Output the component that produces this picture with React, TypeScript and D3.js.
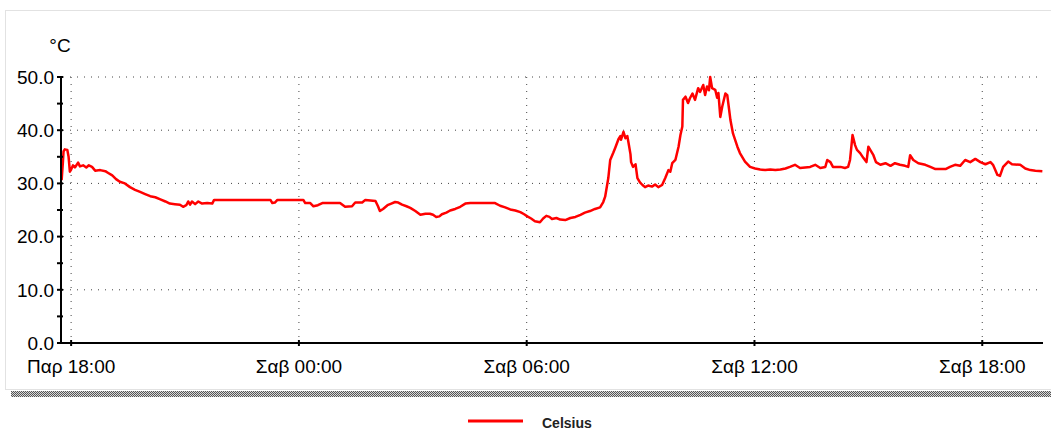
import React from "react";
import * as d3 from "d3";

// minutes after Friday 18:00
const minutes = [
  -15, -13, -12, -10, -6, -4, -2, 0, 3, 6, 11, 14, 19, 24, 28, 33, 38, 46, 54, 58, 65, 71, 77, 85, 93, 101, 109, 117, 125, 133, 141, 149, 156, 164, 172, 177, 182, 185, 188, 191, 196, 201, 207, 215, 223, 226, 251, 283, 315, 318, 322, 326, 346, 367, 370, 378, 383, 390, 397, 409, 425, 433, 444, 449, 460, 465, 473, 481, 485, 488, 493, 500, 506, 512, 517, 523, 530, 536, 544, 552, 560, 567, 572, 577, 582, 586, 593, 599, 607, 615, 623, 631, 646, 662, 670, 678, 686, 694, 702, 710, 716, 721, 727, 733, 741, 746, 751, 756, 760, 767, 773, 781, 789, 797, 805, 812, 820, 828, 836, 841, 844, 849, 852, 857, 860, 865, 868, 869, 873, 876, 879, 881, 884, 885, 888, 892, 895, 899, 903, 907, 912, 918, 923, 928, 934, 939, 944, 947, 950, 955, 960, 963, 966, 967, 971, 975, 978, 982, 986, 991, 994, 999, 1002, 1005, 1008, 1010, 1013, 1018, 1021, 1023, 1026, 1029, 1034, 1037, 1040, 1042, 1046, 1053, 1057, 1065, 1073, 1081, 1089, 1097, 1105, 1113, 1121, 1129, 1136, 1144, 1152, 1160, 1168, 1176, 1184, 1192, 1195, 1200, 1204, 1216, 1223, 1228, 1231, 1235, 1239, 1242, 1247, 1252, 1257, 1260, 1263, 1268, 1272, 1279, 1287, 1295, 1302, 1310, 1318, 1323, 1326, 1331, 1339, 1350, 1358, 1366, 1382, 1389, 1397, 1405, 1413, 1421, 1429, 1437, 1445, 1453, 1457, 1464, 1468, 1473, 1481, 1487, 1500, 1508, 1516, 1524, 1535,
];
const celsius = [
  30.6, 34.0, 36.0, 36.4, 36.3, 35.0, 32.2, 32.6, 33.4, 33.0, 33.9, 33.2, 33.4, 33.0, 33.4, 33.1, 32.4, 32.5, 32.3, 32.0, 31.5, 30.8, 30.3, 30.0, 29.3, 28.8, 28.4, 28.0, 27.6, 27.4, 27.0, 26.6, 26.2, 26.1, 26.0, 25.6, 25.9, 26.6, 26.0, 26.6, 26.1, 26.6, 26.2, 26.3, 26.2, 26.9, 26.9, 26.9, 26.9, 26.3, 26.4, 26.9, 26.9, 26.9, 26.3, 26.3, 25.7, 25.9, 26.3, 26.3, 26.3, 25.6, 25.7, 26.4, 26.4, 26.9, 26.8, 26.7, 25.7, 24.8, 25.2, 25.9, 26.2, 26.5, 26.4, 26.0, 25.7, 25.4, 24.8, 24.1, 24.3, 24.3, 24.1, 23.7, 23.8, 24.2, 24.5, 24.9, 25.2, 25.6, 26.2, 26.3, 26.3, 26.3, 26.3, 25.8, 25.5, 25.1, 24.9, 24.6, 24.2, 23.8, 23.4, 22.9, 22.7, 23.4, 23.9, 23.7, 23.3, 23.5, 23.2, 23.1, 23.5, 23.7, 24.1, 24.5, 24.8, 25.2, 25.5, 26.5, 27.5, 31.0, 34.4, 35.8, 36.7, 38.3, 38.9, 38.2, 39.7, 38.5, 38.9, 37.6, 35.5, 34.0, 33.1, 33.6, 31.0, 30.2, 29.7, 29.3, 29.6, 29.4, 29.8, 29.3, 29.7, 31.0, 32.5, 32.2, 33.8, 34.4, 36.9, 39.1, 40.7, 45.7, 46.3, 45.1, 46.0, 46.9, 45.7, 47.9, 47.2, 48.5, 46.6, 48.2, 47.5, 50.0, 47.9, 47.6, 46.1, 47.0, 42.5, 44.4, 46.9, 46.6, 43.8, 41.9, 39.4, 36.9, 35.7, 34.1, 33.1, 32.8, 32.6, 32.5, 32.6, 32.5, 32.6, 32.8, 33.1, 33.5, 32.9, 33.0, 33.1, 33.5, 32.9, 33.1, 34.4, 34.0, 33.1, 33.1, 32.9, 33.1, 34.4, 39.1, 37.2, 36.3, 35.7, 34.8, 34.0, 36.9, 36.3, 35.3, 34.0, 33.5, 33.8, 33.3, 33.8, 33.5, 33.3, 33.1, 35.3, 34.4, 33.8, 33.5, 33.1, 32.7, 32.7, 33.1, 33.5, 33.3, 34.4, 34.0, 34.6, 34.0, 33.6, 34.0, 33.5, 31.6, 31.4, 33.1, 34.1, 33.6, 33.5, 32.8, 32.5, 32.4, 32.3,
];
const yMajorTicks = [0, 10, 20, 30, 40, 50];
const yMinorTicks = [5, 15, 25, 35, 45];
const dayNames = ["Κυρ", "Δευ", "Τρι", "Τετ", "Πεμ", "Παρ", "Σαβ"];
const unitLabel = "°C";
const seriesName = "Celsius";

const START = new Date(2024, 0, 5, 18, 0); // a Friday
const toDate = (m: number) => new Date(START.getTime() + m * 60000);
const domainStart = -16;
const domainEnd = 1536;

export default function App() {
  const W = 1051, H = 430;
  const left = 61, right = 1043, top = 77, bottom = 343;
  const x = d3.scaleTime().domain([toDate(domainStart), toDate(domainEnd)]).range([left, right]);
  const y = d3.scaleLinear().domain([0, 50]).range([bottom, top]);
  const data = minutes.map((m, i) => ({ t: toDate(m), v: celsius[i] }));
  const line = d3.line<{ t: Date; v: number }>().x(d => x(d.t)).y(d => y(d.v));
  const xTicks = x.ticks(d3.timeHour.every(6) as any);
  const fmtTime = d3.timeFormat("%H:%M");
  const fmt = (d: Date) => `${dayNames[d.getDay()]} ${fmtTime(d)}`;
  const font = "'Liberation Sans', Arial, sans-serif";
  const grid = "#444";

  return (
    <svg width={W} height={H} style={{ position: "absolute", left: 0, top: 0, display: "block" }} fontFamily={font}>
      <defs>
        <pattern id="hatch" width="2" height="2" patternUnits="userSpaceOnUse">
          <rect width="2" height="2" fill="#d8d8d8" />
          <rect width="1" height="1" fill="#555" />
          <rect x="1" y="1" width="1" height="1" fill="#555" />
        </pattern>
      </defs>
      <rect x={0} y={0} width={W} height={H} fill="#fff" />
      <rect x={5.5} y={10.5} width={W + 10} height={379} fill="#fff" stroke="#e2e2e2" strokeWidth={1} />
      <rect x={11} y={391} width={W - 11} height={6} fill="url(#hatch)" />

      {/* grid */}
      {yMajorTicks.filter(t => t > 0).map(t => (
        <line key={"hg" + t} x1={left + 2} x2={right} y1={y(t)} y2={y(t)} stroke={grid} strokeWidth={1} strokeDasharray="1,6" />
      ))}
      {xTicks.map((t, i) => (
        <line key={"vg" + i} x1={x(t)} x2={x(t)} y1={top} y2={bottom} stroke={grid} strokeWidth={1} strokeDasharray="1,6" />
      ))}

      {/* series */}
      <path d={line(data) || ""} fill="none" stroke="#ff0000" strokeWidth={2.5} strokeLinejoin="round" />

      {/* y axis */}
      <line x1={left} x2={left} y1={top - 1} y2={bottom + 1} stroke="#000" strokeWidth={2} />
      {yMajorTicks.concat(yMinorTicks).map(t => (
        <line key={"yt" + t} x1={left - 4} x2={left + 2} y1={y(t)} y2={y(t)} stroke="#000" strokeWidth={2} />
      ))}
      {yMajorTicks.map(t => (
        <text key={"yl" + t} x={54} y={y(t)} dy="0.36em" textAnchor="end" fontSize={19} fill="#000">{d3.format(".1f")(t)}</text>
      ))}
      <text x={60} y={52} textAnchor="middle" fontSize={19} fill="#000">{unitLabel}</text>

      {/* x axis */}
      <line x1={left} x2={right} y1={bottom} y2={bottom} stroke="#000" strokeWidth={2} />
      {xTicks.map((t, i) => (
        <g key={"xt" + i}>
          <line x1={x(t)} x2={x(t)} y1={bottom - 3} y2={bottom + 3} stroke="#000" strokeWidth={2} />
          <text x={x(t)} y={373} textAnchor="middle" fontSize={19} fill="#000">{fmt(t)}</text>
        </g>
      ))}

      {/* legend */}
      <line x1={468} x2={523} y1={421} y2={421} stroke="#ff0000" strokeWidth={3} />
      <text x={542} y={428} fontSize={14} fontWeight="bold" fill="#222">{seriesName}</text>
    </svg>
  );
}
